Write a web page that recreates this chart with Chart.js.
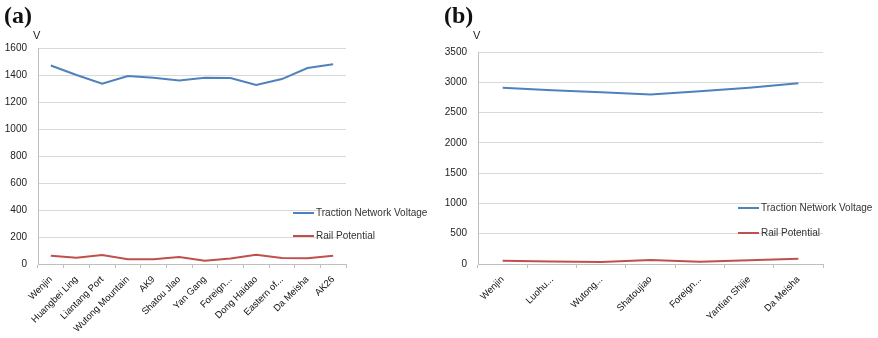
<!DOCTYPE html>
<html lang="en">
<head>
    <meta charset="UTF-8">
    <title>Traction Network Voltage and Rail Potential</title>
    <script src="https://cdn.jsdelivr.net/npm/chart.js"></script>
    <style>
        body {
            margin: 0;
            background: #fff;
            font-family: "Liberation Sans", Arial, sans-serif;
        }
        .panel {
            position: absolute;
            top: 0;
            height: 338px;
        }
        .tag {
            position: absolute;
            left: 4px;
            top: 2px;
            font: bold 24px "Liberation Serif", "DejaVu Serif", serif;
            color: #111;
        }
        .unit {
            position: absolute;
            left: 33px;
            top: 29px;
            font-size: 11px;
            color: #222;
        }
    </style>
</head>
<body>

<div class="panel" style="left:0;width:440px">
    <canvas id="chartA" width="440" height="338"></canvas>
    <div class="tag">(a)</div>
    <div class="unit">V</div>
</div>
<div class="panel" style="left:440px;width:438px">
    <canvas id="chartB" width="438" height="338"></canvas>
    <div class="tag">(b)</div>
    <div class="unit">V</div>
</div>

<script>
    // Stazioni grafico (a)
    const stazioniA = ['Wenjin', 'Huangbei Ling', 'Liantang Port', 'Wutong Mountain', 'AK9', 'Shatou Jiao',
        'Yan Gang', 'Foreign...', 'Dong Haidao', 'Eastern of...', 'Da Meisha', 'AK26'];
    const tensioneA = [1470, 1400, 1335, 1393, 1380, 1360, 1380, 1378, 1326, 1370, 1452, 1479];
    const binarioA = [61, 47, 67, 35, 35, 52, 25, 40, 69, 44, 42, 61];

    // Stazioni grafico (b)
    const stazioniB = ['Wenjin', 'Luohu...', 'Wutong...', 'Shatoujiao', 'Foreign...', 'Yantian Shijie', 'Da Meisha'];
    const tensioneB = [2910, 2870, 2835, 2800, 2850, 2910, 2985];
    const binarioB = [55, 40, 35, 65, 38, 60, 88];

    const BLU = '#4f81bd';
    const ROSSO = '#c0504d';
    const FONT = '"Liberation Sans", Arial, sans-serif';

    // Legenda disegnata sopra l'area del grafico
    function legendaPlugin(x, yList) {
        return {
            id: 'legendaSopra',
            afterDraw(chart) {
                const ctx = chart.ctx;
                ctx.save();
                ctx.font = '10px ' + FONT;
                ctx.textBaseline = 'middle';
                chart.data.datasets.forEach((ds, i) => {
                    const y = yList[i];
                    ctx.strokeStyle = ds.borderColor;
                    ctx.lineWidth = 2;
                    ctx.beginPath();
                    ctx.moveTo(x, y);
                    ctx.lineTo(x + 21, y);
                    ctx.stroke();
                    ctx.fillStyle = '#333';
                    ctx.fillText(ds.label, x + 23, y);
                });
                ctx.restore();
            }
        };
    }

    function creaGrafico(idCanvas, etichette, tensione, binario, maxY, passo, padRight, padTop, legX, legY) {
        new Chart(document.getElementById(idCanvas), {
            type: 'line',
            data: {
                labels: etichette,
                datasets: [{
                    label: 'Traction Network Voltage',
                    data: tensione,
                    borderColor: BLU,
                    borderWidth: 2,
                    pointRadius: 0,
                    tension: 0
                }, {
                    label: 'Rail Potential',
                    data: binario,
                    borderColor: ROSSO,
                    borderWidth: 2,
                    pointRadius: 0,
                    tension: 0
                }]
            },
            options: {
                responsive: false,
                animation: false,
                layout: {
                    padding: { left: 0, right: padRight, top: padTop, bottom: 0 }
                },
                scales: {
                    x: {
                        offset: true,
                        grid: {
                            offset: true,
                            drawOnChartArea: false,
                            drawTicks: true,
                            tickLength: 4,
                            color: '#bfbfbf'
                        },
                        border: { color: '#bfbfbf' },
                        ticks: {
                            autoSkip: false,
                            maxRotation: 45,
                            minRotation: 45,
                            color: '#111',
                            padding: 6,
                            font: { size: 9.5, family: FONT }
                        },
                        afterFit(scale) { scale.height = 74; }
                    },
                    y: {
                        min: 0,
                        max: maxY,
                        ticks: {
                            stepSize: passo,
                            color: '#222',
                            padding: 11,
                            font: { size: 10, family: FONT },
                            callback: (v) => String(v)
                        },
                        grid: {
                            color: '#d9d9d9',
                            drawTicks: false
                        },
                        border: { color: '#bfbfbf' },
                        afterFit(scale) { scale.width = 38; }
                    }
                },
                plugins: {
                    legend: { display: false },
                    tooltip: { enabled: false }
                }
            },
            plugins: [legendaPlugin(legX, legY)]
        });
    }

    creaGrafico('chartA', stazioniA, tensioneA, binarioA, 1600, 200, 94, 48, 293, [213, 236]);
    creaGrafico('chartB', stazioniB, tensioneB, binarioB, 3500, 500, 55, 52, 298, [208, 233]);
</script>
</body>
</html>
